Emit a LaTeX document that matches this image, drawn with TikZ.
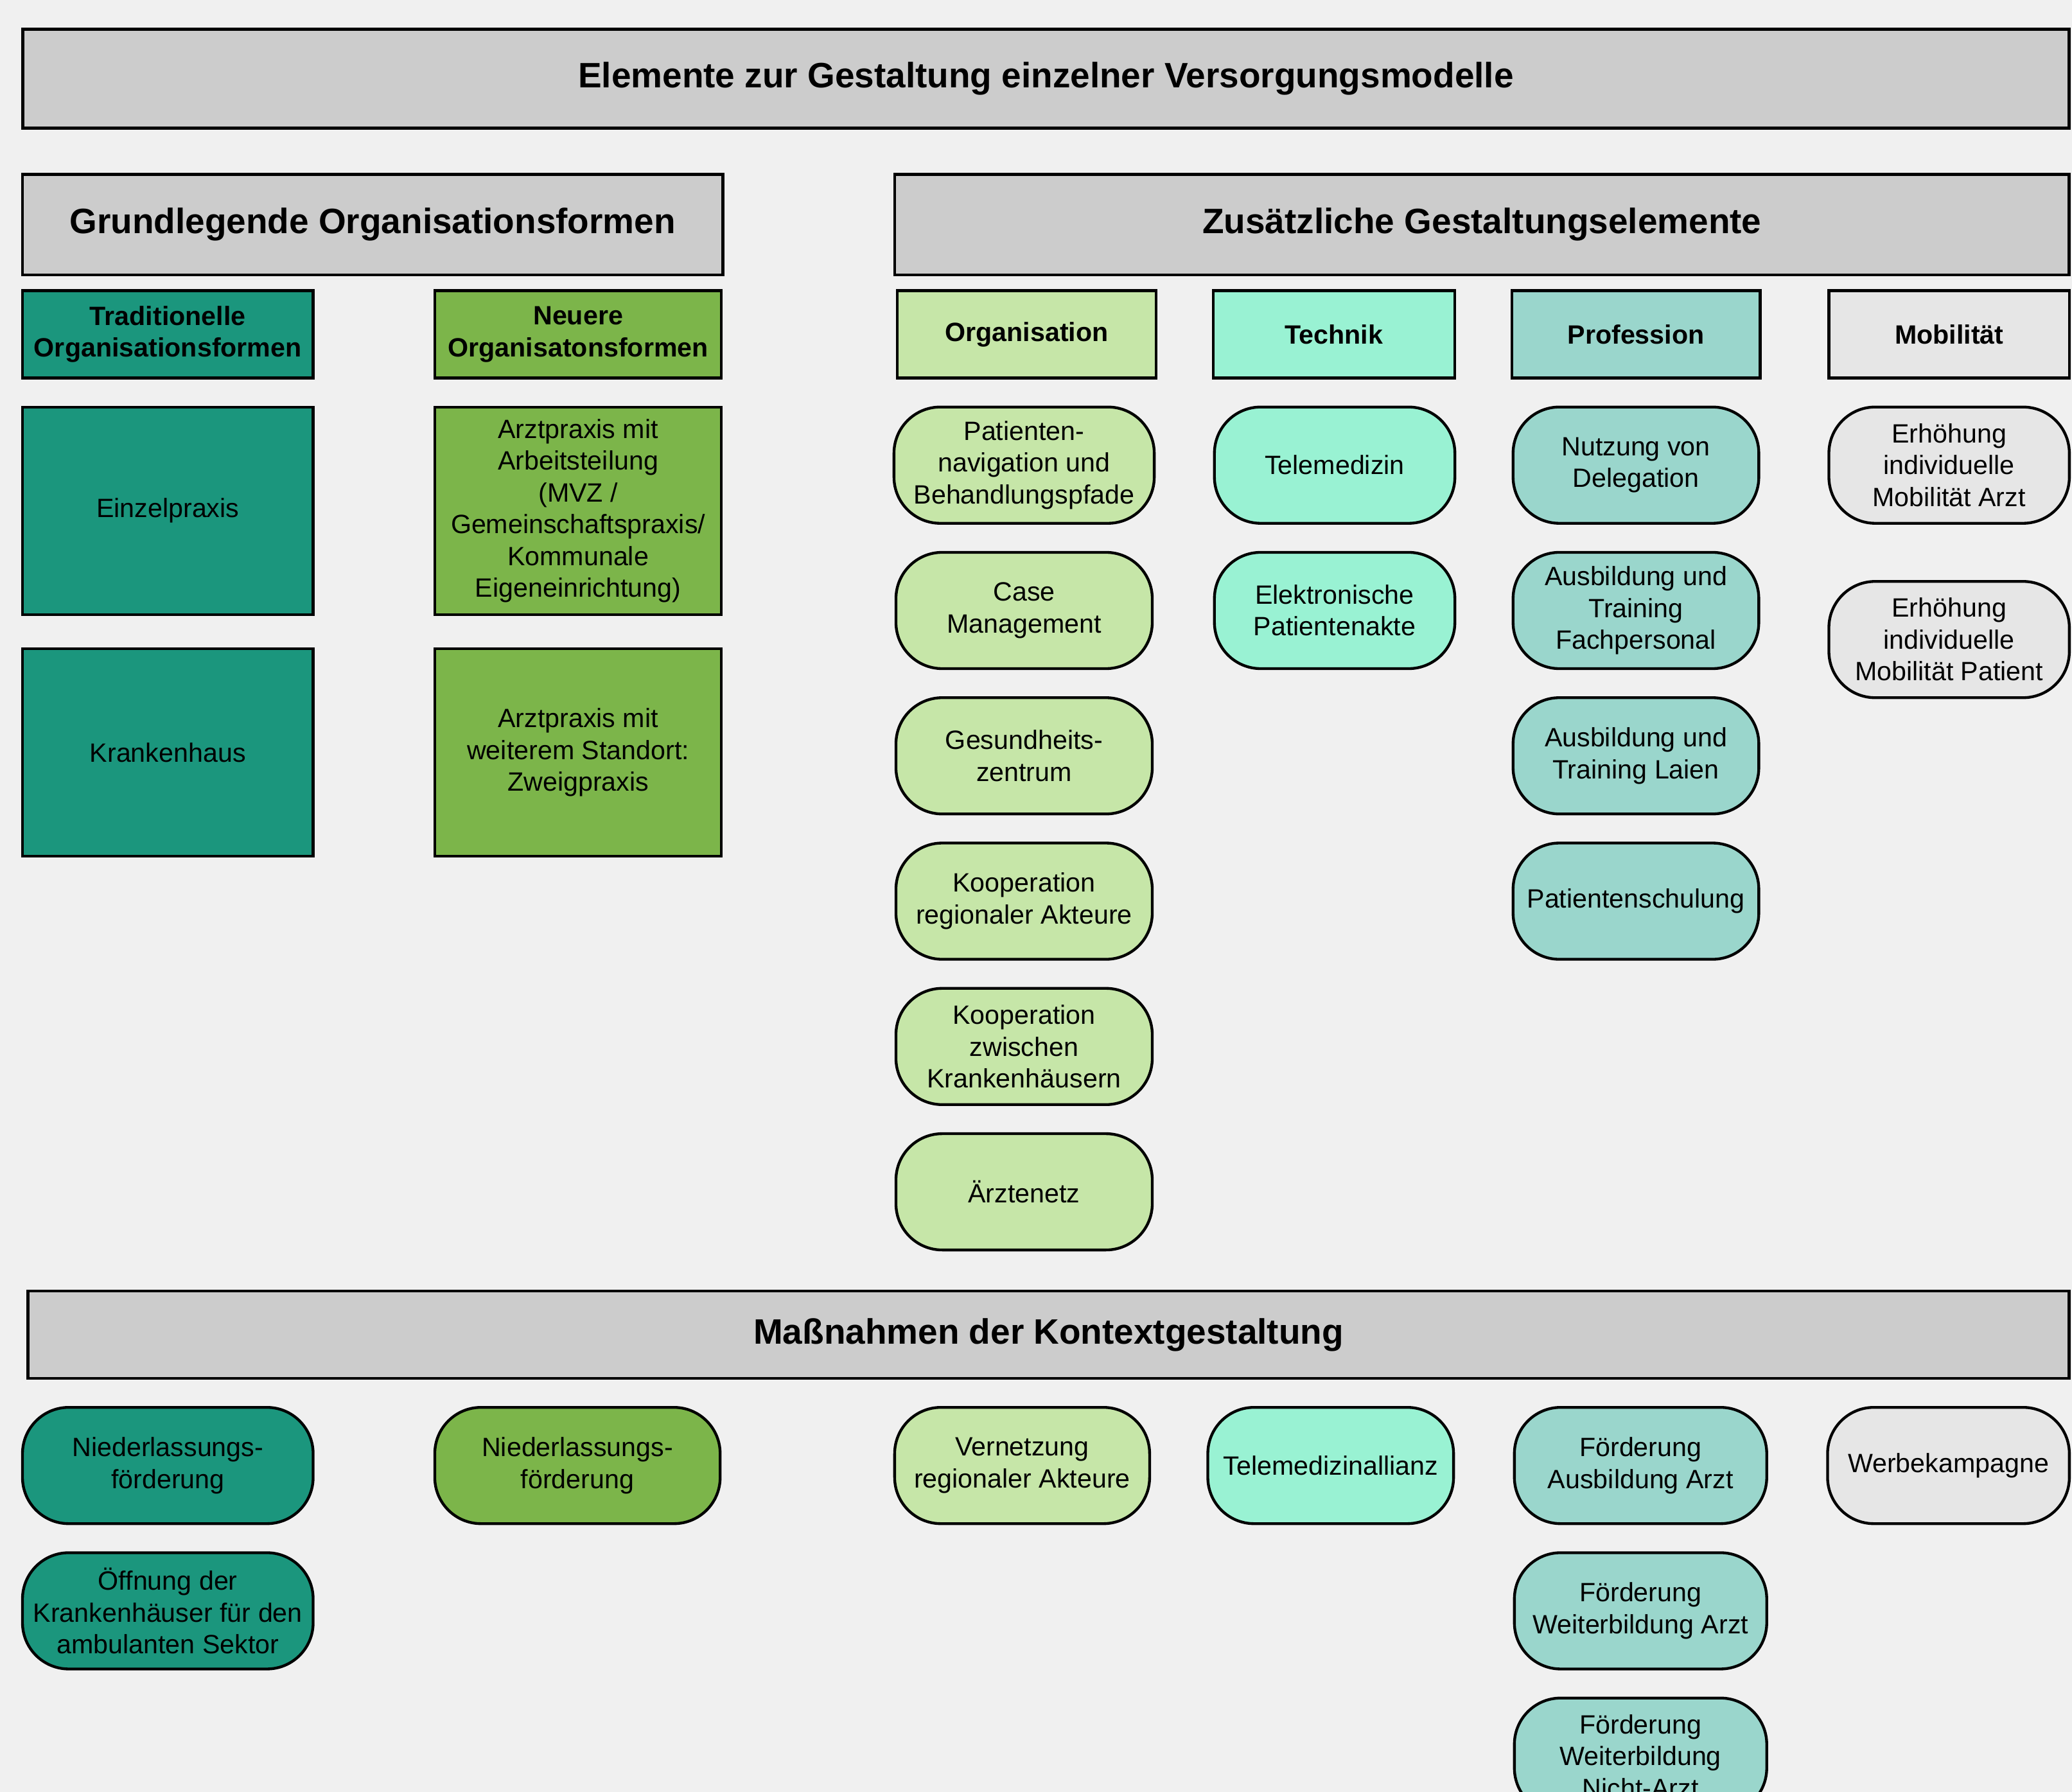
\documentclass[tikz,border=0pt]{standalone}
\usepackage{fontspec}
\setmainfont{Liberation Sans}
\usetikzlibrary{positioning}

\definecolor{bggray}{HTML}{F0F0F0}
\definecolor{hdrgray}{HTML}{CCCCCC}
\definecolor{tealdark}{HTML}{1B967D}
\definecolor{greenmid}{HTML}{7CB54A}
\definecolor{orggreen}{HTML}{C6E6A8}
\definecolor{techmint}{HTML}{99F2D3}
\definecolor{profteal}{HTML}{9AD6CC}
\definecolor{mobgray}{HTML}{E6E6E6}

\begin{document}
\begin{tikzpicture}[
    x=0.02cm, y=-0.02cm,
    node distance=0.44cm,
    every node/.style={font=\fontsize{11.4}{13.7}\selectfont, align=center, inner sep=2pt, outer sep=0pt},
    banner/.style={rectangle, draw=black, line width=1.3pt, fill=hdrgray, font=\bfseries\fontsize{15.2}{18.2}\selectfont},
    catbox/.style={rectangle, draw=black, line width=1.2pt, minimum height=1.32cm, font=\bfseries\fontsize{11.4}{13.7}\selectfont},
    formbox/.style={rectangle, draw=black, line width=1.2pt, minimum width=4.38cm, minimum height=3.14cm},
    pill/.style={rectangle, draw=black, line width=1.2pt, rounded corners=0.7cm, minimum height=1.76cm}
]
    \fill[bggray] (0,0) rectangle (1568,1356);
    \clip (0,0) rectangle (1568,1356);

    % headings
    \node[banner, minimum width=30.98cm, minimum height=1.5cm] (title) at (791.5,59.5) {Elemente zur Gestaltung einzelner Versorgungsmodelle};
    \node[banner, minimum width=10.6cm, minimum height=1.52cm] (grund) at (282,170) {Grundlegende Organisationsformen};
    \node[banner, minimum width=17.78cm, minimum height=1.52cm] (zusatz) at (1121.5,170) {Zusätzliche Gestaltungselemente};

    % categories
    \node[catbox, fill=tealdark, minimum width=4.4cm] (trad) at (127,253) {Traditionelle\\Organisationsformen};
    \node[catbox, fill=greenmid, minimum width=4.34cm] (neu) at (437.5,253) {Neuere\\Organisatonsformen};
    \node[catbox, fill=orggreen, minimum width=3.92cm] (org) at (777,253) {Organisation};
    \node[catbox, fill=techmint, minimum width=3.66cm] (tech) at (1009.5,253) {Technik};
    \node[catbox, fill=profteal, minimum width=3.76cm] (prof) at (1238,253) {Profession};
    \node[catbox, fill=mobgray, minimum width=3.64cm] (mob) at (1475,253) {Mobilität};

    % organisation forms
    \node[formbox, fill=tealdark, minimum width=4.4cm] (einzel) at (127,386.5) {Einzelpraxis};
    \node[formbox, fill=tealdark, minimum width=4.4cm, below=0.52cm of einzel] (khaus) {Krankenhaus};
    \node[formbox, fill=greenmid, minimum width=4.34cm] (arbeit) at (437.5,386.5) {Arztpraxis mit\\Arbeitsteilung\\(MVZ /\\Gemeinschaftspraxis/\\Kommunale\\Eigeneinrichtung)};
    \node[formbox, fill=greenmid, minimum width=4.34cm, below=0.52cm of arbeit] (zweig) {Arztpraxis mit\\weiterem Standort:\\Zweigpraxis};

    % Organisation
    \node[pill, fill=orggreen, minimum width=3.94cm] (navi) at (775,352) {Patienten-\\navigation und\\Behandlungspfade};
    \node[pill, fill=orggreen, minimum width=3.88cm, below=of navi] (casem) {Case\\Management};
    \node[pill, fill=orggreen, minimum width=3.88cm, below=of casem] (gesz) {Gesundheits-\\zentrum};
    \node[pill, fill=orggreen, minimum width=3.88cm, below=of gesz] (koopreg) {Kooperation\\regionaler Akteure};
    \node[pill, fill=orggreen, minimum width=3.88cm, below=of koopreg] (koopkh) {Kooperation\\zwischen\\Krankenhäusern};
    \node[pill, fill=orggreen, minimum width=3.88cm, below=of koopkh] (netz) {Ärztenetz};

    % Technik
    \node[pill, fill=techmint, minimum width=3.64cm] (telemed) at (1010,352) {Telemedizin};
    \node[pill, fill=techmint, minimum width=3.64cm, below=of telemed] (epa) {Elektronische\\Patientenakte};

    % Profession
    \node[pill, fill=profteal, minimum width=3.72cm] (deleg) at (1238,352) {Nutzung von\\Delegation};
    \node[pill, fill=profteal, minimum width=3.72cm, below=of deleg] (ausfach) {Ausbildung und\\Training\\Fachpersonal};
    \node[pill, fill=profteal, minimum width=3.72cm, below=of ausfach] (auslaien) {Ausbildung und\\Training Laien};
    \node[pill, fill=profteal, minimum width=3.72cm, below=of auslaien] (schulung) {Patientenschulung};

    % Mobilitaet
    \node[pill, fill=mobgray, minimum width=3.64cm] (mobarzt) at (1475,352) {Erhöhung\\individuelle\\Mobilität Arzt};
    \node[pill, fill=mobgray, minimum width=3.64cm, below=0.88cm of mobarzt] (mobpat) {Erhöhung\\individuelle\\Mobilität Patient};

    % Kontextgestaltung
    \node[banner, minimum width=30.9cm, minimum height=1.32cm] (kontext) at (793.5,1010) {Maßnahmen der Kontextgestaltung};

    \node[pill, fill=tealdark, minimum width=4.4cm] (niedtrad) at (127,1109) {Niederlassungs-\\förderung};
    \node[pill, fill=tealdark, minimum width=4.4cm, below=of niedtrad] (oeffnung) {Öffnung der\\Krankenhäuser für den\\ambulanten Sektor};
    \node[pill, fill=greenmid, minimum width=4.32cm] (niedneu) at (437,1109) {Niederlassungs-\\förderung};
    \node[pill, fill=orggreen, minimum width=3.86cm] (vernetz) at (773.5,1109) {Vernetzung\\regionaler Akteure};
    \node[pill, fill=techmint, minimum width=3.72cm] (allianz) at (1007,1109) {Telemedizinallianz};
    \node[pill, fill=profteal, minimum width=3.82cm] (fausarzt) at (1241.5,1109) {Förderung\\Ausbildung Arzt};
    \node[pill, fill=profteal, minimum width=3.82cm, below=of fausarzt] (fweiarzt) {Förderung\\Weiterbildung Arzt};
    \node[pill, fill=profteal, minimum width=3.82cm, below=of fweiarzt] (fweinicht) {Förderung\\Weiterbildung\\Nicht-Arzt};
    \node[pill, fill=mobgray, minimum width=3.66cm] (werbung) at (1474.5,1109) {Werbekampagne};
\end{tikzpicture}
\end{document}
